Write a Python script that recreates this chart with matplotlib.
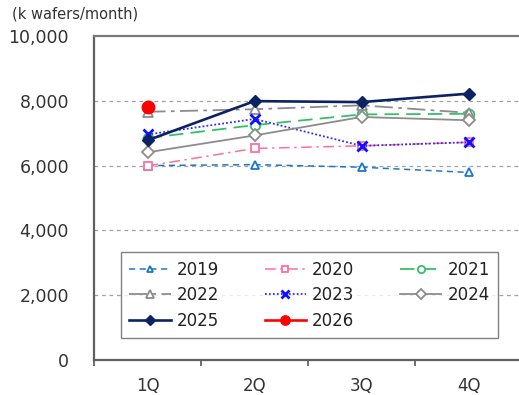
import numpy as np
import matplotlib.pyplot as plt
from matplotlib.ticker import FuncFormatter, FixedLocator

quarters = ["1Q", "2Q", "3Q", "4Q"]

# k wafers/month by quarter
y2019 = [6000, 6030, 5950, 5790]
y2020 = [5990, 6530, 6610, 6720]
y2021 = [6850, 7250, 7580, 7600]
y2022 = [7660, 7740, 7860, 7630]
y2023 = [6960, 7440, 6610, 6720]
y2024 = [6410, 6930, 7500, 7400]
y2025 = [6780, 7990, 7960, 8220]
y2026 = [7810]

fig = plt.figure(figsize=(5.19, 3.95), dpi=100)
ax = fig.add_axes([94 / 519, 35 / 395, 428 / 519, 324 / 395])

x = np.arange(1, 5)

h19, = ax.plot(x, y2019, color="#1a78c8", lw=1.1, ls=(0, (4, 3)), marker="^", ms=6,
               mfc="white", mec="#1a78c8", mew=1.3, label="2019", zorder=3)
h20, = ax.plot(x, y2020, color="#ff6f9c", lw=1.1, ls=(0, (7, 3, 1.5, 3)), marker="s", ms=6,
               mfc="white", mec="#ff6f9c", mew=1.3, label="2020", zorder=4)
h21, = ax.plot(x, y2021, color="#33c06a", lw=1.3, ls=(0, (8, 4)), marker="o", ms=7,
               mfc="white", mec="#33c06a", mew=1.3, label="2021", zorder=5)
h22, = ax.plot(x, y2022, color="#8c8c8c", lw=1.3, ls=(0, (10, 3, 2, 3)), marker="^", ms=7,
               mfc="white", mec="#8c8c8c", mew=1.3, label="2022", zorder=6)
h23, = ax.plot(x, y2023, color="#2b2bff", lw=1.3, ls=(0, (1, 1.2)), marker="x", ms=7,
               mec="#1010ff", mew=2.0, label="2023", zorder=7)
h24, = ax.plot(x, y2024, color="#8c8c8c", lw=1.3, ls="-", marker="D", ms=6.5,
               mfc="white", mec="#8c8c8c", mew=1.3, label="2024", zorder=8)
h25, = ax.plot(x, y2025, color="#0b2265", lw=1.9, ls="-", marker="D", ms=6.5,
               mfc="#0b2265", mec="#0b2265", label="2025", zorder=9)
h26, = ax.plot(x[:len(y2026)], y2026, color="#ff0000", lw=1.9, ls="-", marker="o", ms=9,
               mfc="#ff0000", mec="#ff0000", label="2026", zorder=10)

ax.set_xlim(0.5, 4.5)
ax.set_ylim(0, 10000)
ax.set_yticks(np.arange(0, 10001, 2000))
ax.yaxis.set_major_formatter(FuncFormatter(lambda v, p: f"{int(v):,}"))
ax.set_xticks(x)
ax.set_xticklabels(quarters)
ax.xaxis.set_minor_locator(FixedLocator(np.arange(0.5, 4.6, 1.0)))
ax.tick_params(axis="x", which="major", length=0, pad=12, labelsize=12, colors="#333333")
ax.tick_params(axis="x", which="minor", length=4, width=1.2, color="#555555")
ax.tick_params(axis="y", length=0, pad=18, labelsize=12.5, colors="#333333")

for v in range(2000, 10000, 2000):
    ax.axhline(v, color="#a0a0a0", lw=0.9, ls=(0, (3, 3)), zorder=1)

ax.spines["right"].set_visible(False)
ax.spines["left"].set_color("#606060")
ax.spines["top"].set_color("#7a7a7a")
ax.spines["bottom"].set_color("#606060")
for s in ("left", "top", "bottom"):
    ax.spines[s].set_linewidth(1.6)

# legend reads row by row: columns are filled top-down
order = [h19, h22, h25, h20, h23, h26, h21, h24]
leg = ax.legend(handles=order, ncol=3, loc="lower left", mode="expand",
                bbox_to_anchor=(27 / 428, 22 / 324, 377 / 428, 0.24),
                fontsize=12, frameon=True, fancybox=False, handlelength=2.5,
                handletextpad=0.35, labelspacing=0.45, borderpad=0.5,
                borderaxespad=0, markerscale=0.75)
leg.get_frame().set_edgecolor("#606060")
leg.get_frame().set_linewidth(1.0)
leg.set_zorder(20)
for t in leg.get_texts():
    t.set_color("#222222")

fig.text(12 / 519, 1 - 14 / 395, "(k wafers/month)", fontsize=10.5, color="#333333",
         va="center", ha="left")

fig.savefig("out.png", dpi=100)
